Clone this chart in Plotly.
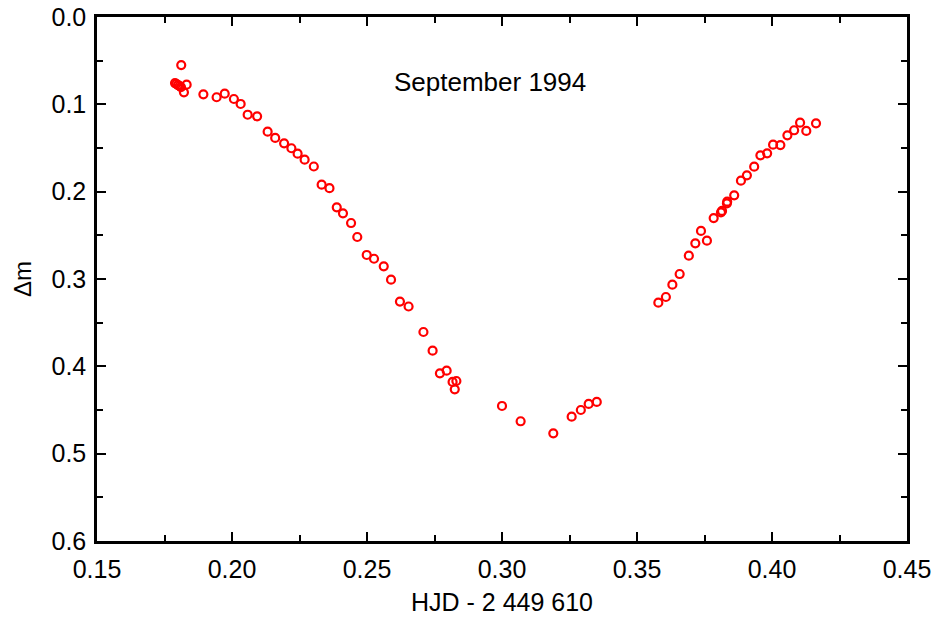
import plotly.graph_objects as go

# HJD - 2 449 610
hjd = [
    0.1812, 0.1789, 0.1794, 0.1800, 0.1806, 0.1811, 0.1832, 0.1822,
    0.1894, 0.1943, 0.1973, 0.2007, 0.2032, 0.2058, 0.2093, 0.2132,
    0.2160, 0.2193, 0.2220, 0.2243, 0.2269, 0.2303, 0.2332, 0.2361,
    0.2388, 0.2411, 0.2441, 0.2464, 0.2499, 0.2526, 0.2562, 0.2589,
    0.2622, 0.2654, 0.2709, 0.2743, 0.2770, 0.2795, 0.2817, 0.2831,
    0.2825, 0.3000, 0.3069, 0.3190, 0.3258, 0.3292, 0.3321, 0.3351,
    0.3579, 0.3607, 0.3631, 0.3658, 0.3692, 0.3716, 0.3737, 0.3759,
    0.3784, 0.3811, 0.3815, 0.3833, 0.3834, 0.3860, 0.3885, 0.3907,
    0.3934, 0.3957, 0.3982, 0.4004, 0.4031, 0.4057, 0.4082, 0.4104,
    0.4127, 0.4163,
]
# Delta m
dmag = [
    0.0550, 0.0756, 0.0767, 0.0779, 0.0790, 0.0802, 0.0775, 0.0862,
    0.0885, 0.0919, 0.0878, 0.0939, 0.0996, 0.1119, 0.1137, 0.1313,
    0.1385, 0.1446, 0.1503, 0.1565, 0.1634, 0.1712, 0.1920, 0.1960,
    0.2179, 0.2248, 0.2359, 0.2519, 0.2725, 0.2768, 0.2855, 0.3008,
    0.3258, 0.3315, 0.3607, 0.3821, 0.4080, 0.4050, 0.4179, 0.4168,
    0.4263, 0.4454, 0.4629, 0.4767, 0.4577, 0.4500, 0.4431, 0.4408,
    0.3271, 0.3206, 0.3065, 0.2943, 0.2733, 0.2591, 0.2450, 0.2561,
    0.2302, 0.2236, 0.2221, 0.2133, 0.2115, 0.2042, 0.1874, 0.1813,
    0.1714, 0.1584, 0.1561, 0.1462, 0.1466, 0.1355, 0.1297, 0.1210,
    0.1305, 0.1217,
]

x_ticks = [0.15, 0.20, 0.25, 0.30, 0.35, 0.40, 0.45]
y_ticks = [0.0, 0.1, 0.2, 0.3, 0.4, 0.5, 0.6]

FONT = "Liberation Sans, Arial, Helvetica, sans-serif"

fig = go.Figure()
fig.add_trace(go.Scatter(
    x=hjd, y=dmag, mode="markers",
    marker=dict(symbol="circle-open", size=8, color="#ff0000",
                line=dict(width=2.2, color="#ff0000")),
    showlegend=False, cliponaxis=False,
))

axis_common = dict(
    showline=True, linecolor="black", linewidth=2.5, mirror="ticks",
    ticks="inside", ticklen=9, tickwidth=2, tickcolor="black",
    showgrid=False, zeroline=False, automargin=False,
    tickfont=dict(family=FONT, size=25, color="black"),
)

fig.update_xaxes(
    range=[0.15, 0.45], tickvals=x_ticks,
    ticktext=[f"{v:.2f}" for v in x_ticks],
    minor=dict(dtick=0.025, tick0=0.15, ticks="inside", ticklen=6, tickwidth=2,
               tickcolor="black", showgrid=False),
    title=dict(text="HJD - 2 449 610", font=dict(family=FONT, size=25, color="black"),
               standoff=12),
    ticklabelstandoff=4,
    **axis_common,
)
fig.update_yaxes(
    range=[0.6, 0.0], tickvals=y_ticks,
    ticktext=[f"{v:.1f}" for v in y_ticks],
    minor=dict(dtick=0.05, tick0=0.0, ticks="inside", ticklen=6, tickwidth=2,
               tickcolor="black", showgrid=False),
    title=dict(text="Δm", font=dict(family=FONT, size=24, color="black"),
               standoff=14),
    ticklabelstandoff=3,
    **axis_common,
)

fig.add_annotation(
    x=0.2956, y=0.0744, xref="x", yref="y", text="September 1994",
    showarrow=False, font=dict(family=FONT, size=26, color="black"),
)

fig.update_layout(
    width=936, height=621,
    margin=dict(l=97, r=29, t=17, b=80),
    plot_bgcolor="white", paper_bgcolor="white",
)

fig.write_html(
    "out.html",
    config={"displayModeBar": False},
    post_script="document.body.style.margin='0';document.body.style.overflow='hidden';",
)
